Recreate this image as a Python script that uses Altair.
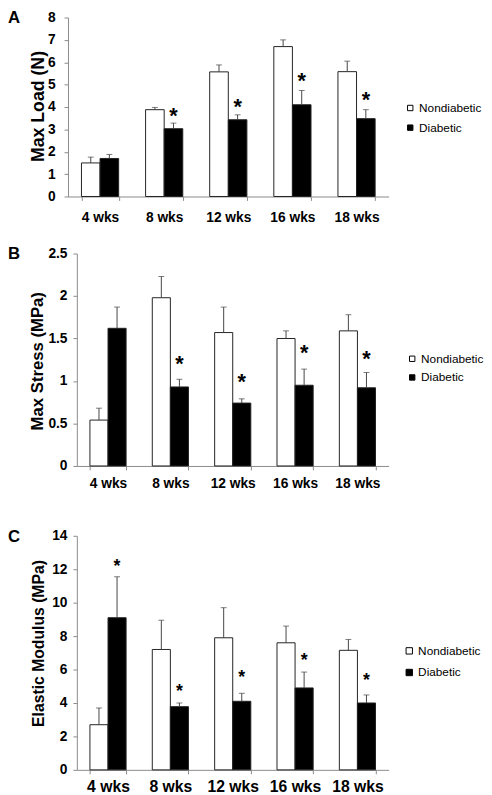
import altair as alt
import pandas as pd

weeks = ["4 wks", "8 wks", "12 wks", "16 wks", "18 wks"]
groups = ["Nondiabetic", "Diabetic"]

# Panel A: Max Load (N)
load_non = [1.50, 3.88, 5.57, 6.70, 5.58]
load_non_top = [1.76, 3.98, 5.88, 7.00, 6.05]
load_dia = [1.70, 3.03, 3.43, 4.10, 3.48]
load_dia_top = [1.88, 3.28, 3.65, 4.74, 3.88]
load_star = [None, 3.87, 4.26, 5.41, 4.57]

# Panel B: Max Stress (MPa)
stress_non = [0.54, 1.98, 1.57, 1.50, 1.59]
stress_non_top = [0.68, 2.23, 1.87, 1.59, 1.78]
stress_dia = [1.62, 0.93, 0.74, 0.95, 0.92]
stress_dia_top = [1.87, 1.02, 0.79, 1.14, 1.10]
stress_star = [None, 1.27, 1.06, 1.40, 1.33]

# Panel C: Elastic Modulus (MPa)
mod_non = [2.70, 7.20, 7.90, 7.60, 7.15]
mod_non_top = [3.70, 8.95, 9.70, 8.60, 7.80]
mod_dia = [9.10, 3.78, 4.10, 4.90, 4.00]
mod_dia_top = [11.55, 4.00, 4.58, 5.85, 4.48]
mod_star = [12.47, 5.03, 5.82, 6.88, 5.65]

FONT = "Liberation Sans, Arial, sans-serif"
AXIS_GRAY = "#8a8a8a"


def make_df(non, non_top, dia, dia_top, stars):
    rows = []
    for i, w in enumerate(weeks):
        rows.append({"week": w, "group": groups[0], "value": non[i], "top": non_top[i],
                     "star": None, "mark": ""})
        rows.append({"week": w, "group": groups[1], "value": dia[i], "top": dia_top[i],
                     "star": stars[i], "mark": "*" if stars[i] is not None else ""})
    return pd.DataFrame(rows)


def panel(letter, non, non_top, dia, dia_top, stars, ymax, yvals, ytitle,
          height, xrange, yoffset, ylabpad, title_x, title_y, title_size,
          xlabsize, xlabpad, leg_x, leg_y, leg_rowpad, sym_size,
          star_size, star_dy):
    df = make_df(non, non_top, dia, dia_top, stars)
    xscale_kwargs = dict(domain=weeks, paddingInner=0.42, paddingOuter=0.21)
    if xrange is not None:
        xscale_kwargs["range"] = xrange
    x_axis = alt.Axis(title=None, labelAngle=0, tickBand="extent", labelOverlap=False,
                      labelFontSize=xlabsize, labelPadding=xlabpad,
                      labelFont=FONT, labelFontWeight="bold", labelColor="black",
                      domainColor=AXIS_GRAY, tickColor=AXIS_GRAY, tickSize=4)
    x_scale = alt.Scale(**xscale_kwargs)
    xo_scale = alt.Scale(domain=groups, paddingInner=0, paddingOuter=0)
    y_scale = alt.Scale(domain=[0, ymax], nice=False)
    y_axis = alt.Axis(
        title=ytitle, values=yvals, format="~g", grid=False, offset=yoffset,
        labelOverlap=False, labelFlush=False,
        labelFont=FONT, labelFontWeight="bold", labelFontSize=14, labelColor="black",
        labelPadding=ylabpad, domainColor=AXIS_GRAY, tickColor=AXIS_GRAY, tickSize=4,
        titleFont=FONT, titleFontWeight="bold", titleFontSize=title_size, titleColor="black",
        titleX=title_x, titleY=title_y, titleAngle=-90, titleAlign="center", titleBaseline="middle",
    )

    def X():
        return alt.X("week:N", sort=weeks, scale=x_scale, axis=x_axis)

    def XO():
        return alt.XOffset("group:N", sort=groups, scale=xo_scale)

    def Y(field):
        return alt.Y(field, scale=y_scale, axis=y_axis, title=ytitle)

    base = alt.Chart(df)
    bars = base.mark_bar(stroke="#222222", strokeWidth=1).encode(
        x=X(), xOffset=XO(), y=Y("value:Q"),
        fill=alt.Fill("group:N", sort=groups,
                      scale=alt.Scale(domain=groups, range=["white", "black"]),
                      legend=alt.Legend(orient="none", legendX=leg_x, legendY=leg_y, title=None,
                                        symbolType="square", symbolSize=sym_size,
                                        symbolStrokeColor="black", symbolStrokeWidth=1,
                                        labelFont=FONT, labelFontSize=12, labelColor="black",
                                        labelOffset=3, rowPadding=leg_rowpad, padding=0)),
    )
    rules = base.mark_rule(color="#444444", strokeWidth=1).encode(
        x=X(), xOffset=XO(), y=Y("value:Q"), y2="top:Q",
    )
    caps = base.mark_tick(color="#444444", thickness=1, size=6).encode(
        x=X(), xOffset=XO(), y=Y("top:Q"),
    )
    star_text = base.transform_filter("datum.star != null").mark_text(
        font=FONT, fontWeight="bold", fontSize=star_size, baseline="alphabetic",
        align="center", dy=star_dy, color="black",
    ).encode(
        x=X(), xOffset=XO(), y=Y("star:Q"), text="mark:N",
    )
    letter_text = alt.Chart(pd.DataFrame({"letter": [letter]})).mark_text(
        font=FONT, fontWeight="bold", fontSize=17, align="left", baseline="top", color="black",
    ).encode(x=alt.value(-70), y=alt.value(-7), text="letter:N")
    return alt.layer(bars, rules, caps, star_text, letter_text).properties(
        width=317, height=height
    )


A = panel("A", load_non, load_non_top, load_dia, load_dia_top, load_star,
          8, list(range(0, 9)), "Max Load (N)", 182, [-9, 317], 9, 9,
          -30, 90, 18, 14, 10, 333, 86, 8, 30, 22, 13)
B = panel("B", stress_non, stress_non_top, stress_dia, stress_dia_top, stress_star,
          2.5, [0, 0.5, 1, 1.5, 2, 2.5], "Max Stress (MPa)", 216, None, 0, 6,
          -40, 109, 17, 14, 7, 335, 101, 7, 30, 22, 13)
C = panel("C", mod_non, mod_non_top, mod_dia, mod_dia_top, mod_star,
          14, list(range(0, 15, 2)), "Elastic Modulus (MPa)", 238, None, 0, 6,
          -39, 109, 16, 16, 5, 332, 111, 10, 42, 18, 11)

top = alt.vconcat(A, B, spacing=22).resolve_scale(
    x="independent", y="independent", fill="independent", xOffset="independent"
).resolve_legend(fill="independent")

chart = alt.vconcat(top, C, spacing=38).resolve_scale(
    x="independent", y="independent", fill="independent", xOffset="independent"
).resolve_legend(fill="independent").properties(
    padding={"top": -5, "left": 0, "right": 0, "bottom": 0}
).configure_view(stroke=None).configure_axis(grid=False)

chart.save("out.html", embed_options={"renderer": "svg", "actions": False})
